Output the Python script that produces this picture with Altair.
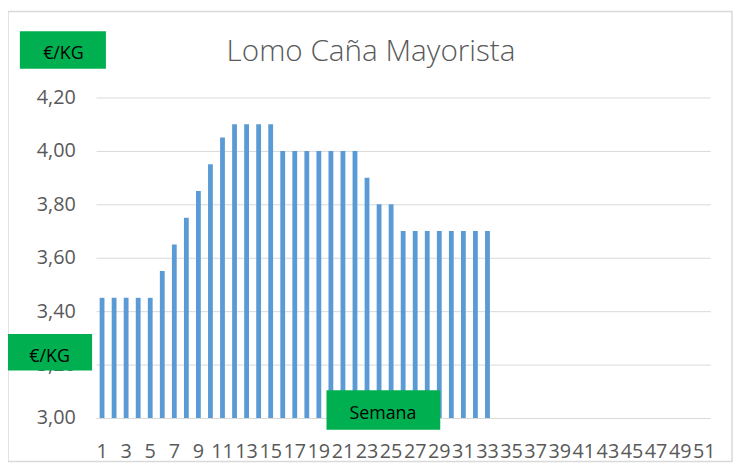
import altair as alt
import pandas as pd

# Data
weeks_axis = list(range(1, 52))            # category axis: semanas 1..51
weeks = list(range(1, 34))                 # weeks with data
prices = [3.45, 3.45, 3.45, 3.45, 3.45,
          3.55, 3.65, 3.75, 3.85, 3.95, 4.05,
          4.10, 4.10, 4.10, 4.10,
          4.00, 4.00, 4.00, 4.00, 4.00, 4.00, 4.00,
          3.90, 3.80, 3.80,
          3.70, 3.70, 3.70, 3.70, 3.70, 3.70, 3.70, 3.70]
y_ticks = [3.0, 3.2, 3.4, 3.6, 3.8, 4.0, 4.2]
title_text = "Lomo Caña Mayorista"
unit_label = "€/KG"
x_label = "Semana"

df = pd.DataFrame({"semana": weeks, "precio": prices})
one = pd.DataFrame({"k": [0]})

FONT = "Open Sans"
GREY = "#595959"
GREEN = "#00B050"

W, H = 621, 324

bars = alt.Chart(df).mark_bar(color="#5B9BD5").encode(
    x=alt.X("semana:O",
            scale=alt.Scale(domain=weeks_axis, paddingInner=0.6, paddingOuter=0.3),
            axis=alt.Axis(title=None, labelAngle=0, labelOverlap=False,
                          labelExpr="datum.value % 2 == 1 ? datum.label : ''",
                          ticks=False, tickSize=0, domain=False, grid=False,
                          labelFont=FONT, labelFontSize=20, labelColor=GREY,
                          labelPadding=24)),
    y=alt.Y("precio:Q",
            scale=alt.Scale(domain=[3.0, 4.2], zero=False, nice=False),
            axis=alt.Axis(title=None, values=y_ticks, ticks=False, tickSize=0,
                          domain=False, grid=True, gridColor="#D9D9D9",
                          labelExpr="replace(format(datum.value, '.2f'), '.', ',')",
                          labelFont=FONT, labelFontSize=20, labelColor=GREY,
                          labelPadding=21)),
    y2=alt.datum(3.0),
)

# Outer chart-area border
border = alt.Chart(one).mark_rect(fill=None, stroke="#D9D9D9", strokeWidth=1.5).encode(
    x=alt.value(-89), x2=alt.value(W + 22), y=alt.value(-87), y2=alt.value(H + 44)
)

def box(x1, x2, y1, y2):
    return alt.Chart(one).mark_rect(color=GREEN).encode(
        x=alt.value(x1), x2=alt.value(x2), y=alt.value(y1), y2=alt.value(y2))

def label(txt, x, y, size, color="black", weight=400):
    return alt.Chart(one).mark_text(text=txt, font=FONT, fontSize=size, color=color,
                                   fontWeight=weight,
                                   align="center", baseline="middle").encode(
        x=alt.value(x), y=alt.value(y))

title = label(title_text, 278, -46, 30, GREY, 300)

top_box = box(-77, 10, -67, -29)
top_txt = label(unit_label, -33, -44, 18)

left_box = box(-90, -4, 239, 276)
left_txt = label(unit_label, -47, 262, 18)

sem_box = box(233, 348, 296, 336)
sem_txt = label(x_label, 290, 320, 18)

chart = alt.layer(
    bars, border, title, top_box, top_txt, left_box, left_txt, sem_box, sem_txt
).properties(
    width=W, height=H,
    autosize=alt.AutoSizeParams(type="none"),
    padding={"left": 89, "top": 88, "right": 26, "bottom": 44},
).configure_view(stroke=None)

chart.save("out.html", embed_options={"renderer": "svg", "actions": False})
